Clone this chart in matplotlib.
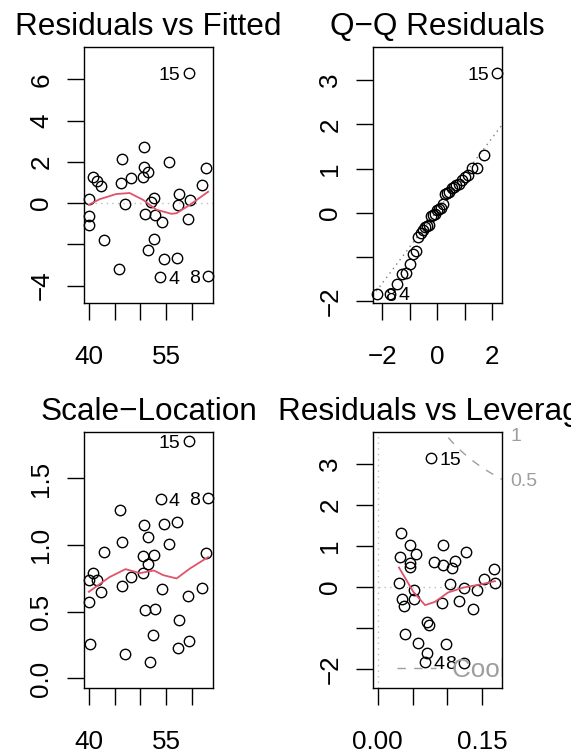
import matplotlib
matplotlib.use("Agg")
import numpy as np
import matplotlib.pyplot as plt
from matplotlib.lines import Line2D
from statistics import NormalDist

plt.rcParams["font.family"] = ["Liberation Sans", "DejaVu Sans"]

# labelled observations come first in every panel's arrays
point_ids = ["15", "4", "8"]

# Residuals vs Fitted
fitted = [59.4, 53.8, 63.1, 40.1, 40.1, 40.0, 40.8, 41.6, 42.4, 43.0,
          45.8, 46.4, 46.3, 47.1, 48.2, 50.6, 50.4, 50.6, 51.5, 52.6,
          52.0, 50.9, 52.9, 54.2, 51.4, 52.6, 54.5, 55.6, 57.1, 57.4,
          57.2, 59.2, 59.6, 61.9, 62.7]
resid = [6.31, -3.61, -3.56, 0.19, -0.61, -1.05, 1.26, 1.05, 0.81, -1.78,
         -3.19, 2.14, 0.97, -0.05, 1.21, 2.70, 1.25, 1.75, 1.52, 0.24,
         0.03, -0.52, -0.60, -0.91, -2.30, -1.73, -2.72, 2.01, -2.67, 0.42,
         -0.11, -0.76, 0.15, 0.89, 1.72]
rf_smooth_x = [40.0, 42.1, 45.3, 47.9, 50.5, 52.2, 53.1, 56.0, 57.0, 59.6, 63.1]
rf_smooth_y = [-0.08, 0.19, 0.44, 0.49, 0.16, -0.16, -0.32, -0.52, -0.49, -0.08, 0.55]

# Scale-Location
sl_fitted = [59.35, 53.9, 63.1, 46.0, 50.6, 51.4, 54.5, 57.0, 46.5, 55.6,
             42.9, 62.7, 50.5, 52.6, 51.4, 50.4, 48.2, 40.8, 40.0, 41.6,
             42.4, 46.4, 54.2, 61.9, 40.1, 59.3, 50.9, 52.9, 57.4, 52.5,
             40.3, 57.2, 59.5, 47.1, 51.9]
sl_sqrt = [1.78, 1.345, 1.35, 1.26, 1.15, 1.06, 1.16, 1.17, 1.02, 1.01,
           0.95, 0.94, 0.92, 0.925, 0.86, 0.79, 0.76, 0.79, 0.74, 0.74,
           0.65, 0.695, 0.67, 0.675, 0.57, 0.62, 0.51, 0.52, 0.44, 0.325,
           0.255, 0.23, 0.28, 0.18, 0.125]
sl_smooth_x = [40.0, 44.0, 47.1, 49.9, 52.6, 54.4, 57.0, 59.6, 63.1]
sl_smooth_y = [0.65, 0.76, 0.82, 0.79, 0.81, 0.775, 0.75, 0.825, 0.91]

# Residuals vs Leverage (standardized residuals, also used for the Q-Q panel)
leverage = [0.0769, 0.068, 0.124, 0.0338, 0.0457, 0.0548, 0.0324, 0.0457, 0.0457, 0.093,
            0.0814, 0.0943, 0.111, 0.107, 0.127, 0.167, 0.153, 0.030, 0.0514, 0.0348,
            0.0371, 0.0514, 0.0919, 0.104, 0.124, 0.143, 0.168, 0.116, 0.136, 0.0705,
            0.0729, 0.0386, 0.0576, 0.0714, 0.098]
std_resid = [3.15, -1.83, -1.84, 1.31, 1.02, 0.82, 0.74, 0.59, 0.48, 1.02,
             0.62, 0.55, 0.64, 0.455, 0.86, 0.43, 0.195, 0.105, -0.07, -0.28,
             -0.46, -0.30, -0.38, 0.07, -0.03, -0.06, 0.09, -0.33, -0.54, -0.86,
             -0.93, -1.15, -1.37, -1.60, -1.39]
lev_smooth_x = [0.0305, 0.051, 0.068, 0.082, 0.101, 0.123, 0.147, 0.168]
lev_smooth_y = [0.48, -0.11, -0.44, -0.36, -0.13, -0.01, 0.065, 0.145]
n_params = 3
cook_levels = [0.5, 1]

RED = "#DF536B"
GRAY = "#BEBEBE"
COOK = "#9E9E9E"
TICK_FS = 18.7
ID_FS = 14
DOTTED = (0, (1, 3))
DASHED = (0, (6, 6))


def style(ax, xlim, ylim, xticks, xlabels, yticks, ylabels, title):
    ax.set_xlim(xlim)
    ax.set_ylim(ylim)
    ax.set_xticks(xticks, labels=xlabels)
    ax.set_yticks(yticks, labels=ylabels)
    ax.tick_params(length=12, width=1, labelsize=TICK_FS)
    ax.tick_params(axis="x", pad=18)
    ax.tick_params(axis="y", pad=10)
    for lab in ax.get_yticklabels():
        lab.set_rotation(90)
        lab.set_va("center")
    for s in ax.spines.values():
        s.set_linewidth(1)
    ax.set_title(title, fontsize=22.7, pad=8.6)


def points(ax, x, y):
    ax.plot(x, y, "o", mfc="none", mec="black", ms=7.5, mew=1.0, clip_on=False)


def label_ids(ax, x, y, ids, mid=None):
    # R puts the id on the left of points in the right half, else on the right
    if mid is None:
        mid = (min(x) + max(x)) / 2
    for xi, yi, t in zip(x, y, ids):
        left = xi > mid
        ax.annotate(t, (xi, yi), xytext=(-6 if left else 6, 0), textcoords="offset points",
                    ha="right" if left else "left", va="center_baseline",
                    fontsize=ID_FS, annotation_clip=False)


fig = plt.figure(figsize=(5.71, 7.51), dpi=100)
col_left = [0.147, 0.653]
row_bottom = [0.5965, 0.084]
w, h = 0.226, 0.341

# Residuals vs Fitted
ax = fig.add_axes([col_left[0], row_bottom[0], w, h])
ax.axhline(0, ls=DOTTED, color=GRAY, lw=1)
points(ax, fitted, resid)
ax.plot(rf_smooth_x, rf_smooth_y, color=RED, lw=1.3)
label_ids(ax, fitted[:3], resid[:3], point_ids)
style(ax, (39.05, 64.05), (-4.85, 7.58), [40, 45, 50, 55, 60], ["40", "", "", "55", ""],
      [-4, -2, 0, 2, 4, 6], ["\u22124", "", "0", "2", "4", "6"], "Residuals vs Fitted")

# Q-Q Residuals
ax = fig.add_axes([col_left[1], row_bottom[0], w, h])
n = len(std_resid)
order = np.argsort(std_resid)
qq_y = np.array(std_resid)[order]
qq_x = np.array([NormalDist().inv_cdf((i + 0.5) / n) for i in range(n)])
q1, q3 = np.quantile(std_resid, [0.25, 0.75])
z1, z3 = NormalDist().inv_cdf(0.25), NormalDist().inv_cdf(0.75)
slope = (q3 - q1) / (z3 - z1)
ax.axline((0, q1 - slope * z1), slope=slope, ls=DOTTED, color="#7F7F7F", lw=1)
points(ax, qq_x, qq_y)
rank = {int(o): r for r, o in enumerate(order)}
label_ids(ax, [qq_x[rank[i]] for i in range(3)], [qq_y[rank[i]] for i in range(3)],
          point_ids, mid=0.0)
style(ax, (-2.35, 2.36), (-2.04, 3.75), [-2, -1, 0, 1, 2], ["\u22122", "", "0", "", "2"],
      [-2, -1, 0, 1, 2, 3], ["\u22122", "", "0", "1", "2", "3"], "Q\u2212Q Residuals")

# Scale-Location
ax = fig.add_axes([col_left[0], row_bottom[1], w, h])
points(ax, sl_fitted, sl_sqrt)
ax.plot(sl_smooth_x, sl_smooth_y, color=RED, lw=1.3)
label_ids(ax, sl_fitted[:3], sl_sqrt[:3], point_ids)
style(ax, (39.05, 64.05), (-0.071, 1.85), [40, 45, 50, 55, 60], ["40", "", "", "55", ""],
      [0, 0.5, 1.0, 1.5], ["0.0", "0.5", "1.0", "1.5"], "Scale\u2212Location")

# Residuals vs Leverage
ax = fig.add_axes([col_left[1], row_bottom[1], w, h])
xlim = (-0.0068, 0.178)
ax.axhline(0, ls=DOTTED, color=GRAY, lw=1)
ax.axvline(0, ls=DOTTED, color=GRAY, lw=1)
points(ax, leverage, std_resid)
ax.plot(lev_smooth_x, lev_smooth_y, color=RED, lw=1.3)
hh = np.linspace(0.004, xlim[1], 101)
for lvl in cook_levels:
    cl = np.sqrt(lvl * n_params * (1 - hh) / hh)
    ax.plot(hh, cl, ls=DASHED, color=COOK, lw=1)
    ax.plot(hh, -cl, ls=DASHED, color=COOK, lw=1)
label_ids(ax, leverage[:3], std_resid[:3], point_ids)
style(ax, xlim, (-2.46, 3.79), [0, 0.05, 0.10, 0.15], ["0.00", "", "", "0.15"],
      [-2, -1, 0, 1, 2, 3], ["\u22122", "", "0", "1", "2", "3"], "Residuals vs Leverage")
aty = [np.sqrt(lvl * n_params * (1 - xlim[1]) / xlim[1]) for lvl in cook_levels]
sec = ax.secondary_yaxis("right")
sec.set_yticks(aty, labels=[str(l) for l in cook_levels])
sec.tick_params(length=0, pad=6, labelsize=ID_FS, labelcolor=COOK)
sec.spines["right"].set_visible(False)
leg = ax.legend(handles=[Line2D([], [], ls=DASHED, color=COOK, lw=1)], labels=["Cook's distance"],
                loc="center left", bbox_to_anchor=(0.19, 0.07), frameon=False, fontsize=TICK_FS,
                handlelength=1.5, handletextpad=0.6, borderpad=0, borderaxespad=0)
for t in leg.get_texts():
    t.set_color(COOK)
    t.set_clip_on(True)
    t.set_clip_box(ax.bbox)

fig.savefig("out.png", dpi=100)
